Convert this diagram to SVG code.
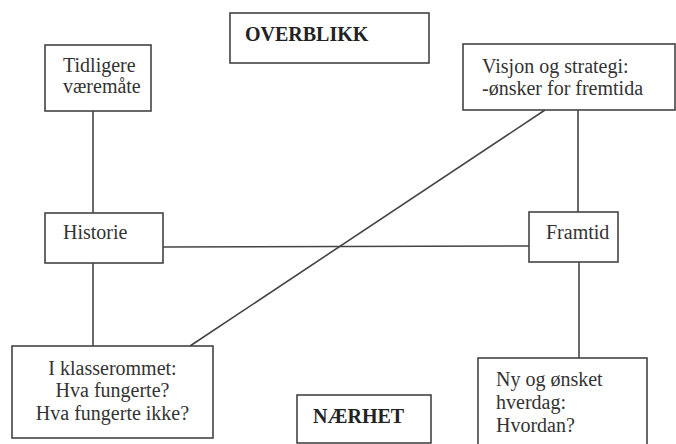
<svg xmlns="http://www.w3.org/2000/svg" width="676" height="444" viewBox="0 0 676 444">
<style>
.box{fill:#fff;stroke:#444;stroke-width:1.6}
.t{font-family:"Liberation Serif","Times New Roman",serif;font-size:20px;fill:#333}
.b{font-weight:bold;fill:#222}
.c{fill:none;stroke:#444;stroke-width:1.6}
</style>
<rect width="676" height="444" fill="#fff"/>
<g id="connectors">
<line class="c" x1="93" y1="111" x2="93" y2="213"/>
<line class="c" x1="93" y1="263" x2="93" y2="346"/>
<line class="c" x1="163" y1="247" x2="529" y2="246"/>
<line class="c" x1="578" y1="110" x2="578" y2="212"/>
<line class="c" x1="579" y1="262" x2="579" y2="358"/>
<line class="c" x1="190" y1="346" x2="545" y2="110"/>
</g>
<g id="overblikk">
<rect class="box" x="230" y="13" width="199" height="50"/>
<text class="t b" x="245" y="41">OVERBLIKK</text>
</g>
<g id="tidligere">
<rect class="box" x="45" y="45" width="106" height="66"/>
<text class="t" x="63" y="72">Tidligere</text>
<text class="t" x="63" y="93">væremåte</text>
</g>
<g id="visjon">
<rect class="box" x="463" y="44" width="212" height="66"/>
<text class="t" x="482" y="73">Visjon og strategi:</text>
<text class="t" x="482" y="95">-ønsker for fremtida</text>
</g>
<g id="historie">
<rect class="box" x="45" y="213" width="118" height="50"/>
<text class="t" x="63" y="239">Historie</text>
</g>
<g id="framtid">
<rect class="box" x="529" y="212" width="89" height="50"/>
<text class="t" x="546" y="239">Framtid</text>
</g>
<g id="klasserommet">
<rect class="box" x="12" y="346" width="201" height="92"/>
<text class="t" x="112.5" y="375" text-anchor="middle">I klasserommet:</text>
<text class="t" x="112.5" y="397" text-anchor="middle">Hva fungerte?</text>
<text class="t" x="112.5" y="420" text-anchor="middle">Hva fungerte ikke?</text>
</g>
<g id="hverdag">
<rect class="box" x="478" y="358" width="169" height="90"/>
<text class="t" x="496" y="386">Ny og ønsket</text>
<text class="t" x="496" y="409">hverdag:</text>
<text class="t" x="496" y="432">Hvordan?</text>
</g>
<g id="naerhet">
<rect class="box" x="297" y="395" width="134" height="48"/>
<text class="t b" x="313" y="423">NÆRHET</text>
</g>
</svg>
